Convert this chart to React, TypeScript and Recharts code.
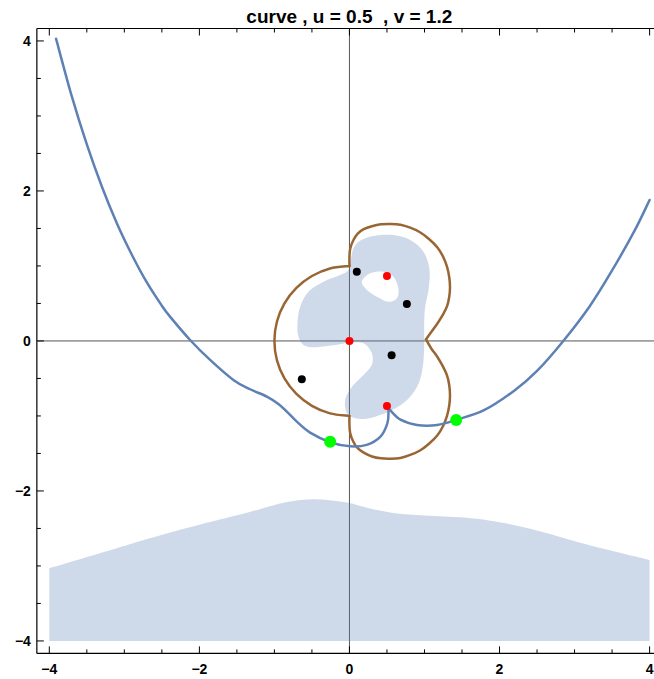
import React from 'react';
import { ScatterChart, Scatter, XAxis, YAxis } from 'recharts';

type Pt = { x: number; y: number };

// Upper shaded region: outer boundary and the hole inside it
const blobOuter: Pt[] = [
  { x: 0.142, y: 1.337 }, { x: 0.32, y: 1.40 }, { x: 0.587, y: 1.413 }, { x: 0.809, y: 1.347 },
  { x: 0.987, y: 1.191 }, { x: 1.067, y: 0.947 }, { x: 1.053, y: 0.68 }, { x: 1.009, y: 0.457 },
  { x: 0.996, y: 0.236 }, { x: 0.996, y: -0.031 }, { x: 0.987, y: -0.253 }, { x: 0.952, y: -0.476 },
  { x: 0.876, y: -0.653 }, { x: 0.743, y: -0.809 }, { x: 0.565, y: -0.92 }, { x: 0.343, y: -1.009 },
  { x: 0.142, y: -1.04 }, { x: -0.013, y: -0.987 }, { x: -0.058, y: -0.876 }, { x: -0.044, y: -0.742 },
  { x: 0.053, y: -0.587 }, { x: 0.187, y: -0.453 }, { x: 0.298, y: -0.32 }, { x: 0.298, y: -0.164 },
  { x: 0.187, y: -0.031 }, { x: 0.0, y: -0.02 }, { x: -0.124, y: -0.044 }, { x: -0.301, y: -0.067 },
  { x: -0.48, y: -0.084 }, { x: -0.613, y: -0.053 }, { x: -0.68, y: 0.058 }, { x: -0.693, y: 0.236 },
  { x: -0.657, y: 0.457 }, { x: -0.546, y: 0.657 }, { x: -0.346, y: 0.791 }, { x: -0.124, y: 0.88 },
  { x: -0.013, y: 0.947 }, { x: 0.018, y: 1.08 }, { x: 0.053, y: 1.236 },
];
const blobHole: Pt[] = [
  { x: 0.165, y: 0.791 }, { x: 0.276, y: 0.903 }, { x: 0.453, y: 0.924 }, { x: 0.587, y: 0.857 },
  { x: 0.653, y: 0.702 }, { x: 0.632, y: 0.569 }, { x: 0.52, y: 0.524 }, { x: 0.365, y: 0.591 },
  { x: 0.232, y: 0.68 },
];

// Lower shaded band: smooth upper edge, then the flat base at y = -4
const lowerBandTop: Pt[] = [
  { x: -4.0, y: -3.03 }, { x: -3.19, y: -2.79 }, { x: -2.66, y: -2.63 }, { x: -2.0, y: -2.45 },
  { x: -1.33, y: -2.28 }, { x: -0.85, y: -2.15 }, { x: -0.48, y: -2.11 }, { x: -0.21, y: -2.13 },
  { x: 0.0, y: -2.16 }, { x: 0.26, y: -2.23 }, { x: 0.64, y: -2.30 }, { x: 1.06, y: -2.33 },
  { x: 1.59, y: -2.36 }, { x: 2.02, y: -2.42 }, { x: 2.55, y: -2.54 }, { x: 3.19, y: -2.72 },
  { x: 4.0, y: -2.92 },
];
const lowerBandBase: Pt[] = [{ x: 4.0, y: -4.0 }, { x: -4.0, y: -4.0 }];

// Blue curve, two branches meeting at (0.5, -0.866)
const blueLeft: Pt[] = [
  { x: -3.91, y: 4.03 }, { x: -3.7, y: 3.26 }, { x: -3.5, y: 2.62 }, { x: -3.3, y: 2.06 },
  { x: -3.1, y: 1.57 }, { x: -2.9, y: 1.15 }, { x: -2.7, y: 0.78 }, { x: -2.5, y: 0.47 },
  { x: -2.391, y: 0.324 }, { x: -2.124, y: 0.013 }, { x: -1.857, y: -0.253 },
  { x: -1.547, y: -0.52 }, { x: -1.324, y: -0.644 }, { x: -1.101, y: -0.742 }, { x: -0.947, y: -0.84 },
  { x: -0.835, y: -0.942 }, { x: -0.701, y: -1.076 }, { x: -0.524, y: -1.222 }, { x: -0.257, y: -1.35 },
  { x: 0.01, y: -1.405 }, { x: 0.23, y: -1.385 }, { x: 0.41, y: -1.28 }, { x: 0.505, y: -1.10 },
  { x: 0.52, y: -0.93 }, { x: 0.5, y: -0.866 },
];
const blueRight: Pt[] = [
  { x: 0.5, y: -0.866 }, { x: 0.54, y: -0.92 }, { x: 0.68, y: -1.05 }, { x: 0.9, y: -1.12 },
  { x: 1.17, y: -1.12 }, { x: 1.42, y: -1.053 }, { x: 1.8, y: -0.92 }, { x: 2.2, y: -0.66 },
  { x: 2.5, y: -0.40 }, { x: 2.85, y: 0.0 }, { x: 3.2, y: 0.46 }, { x: 3.5, y: 0.94 },
  { x: 3.8, y: 1.47 }, { x: 4.0, y: 1.88 },
];

// Brown closed curve, three lobes joined at corners
const brownTop: Pt[] = [
  { x: 0.0, y: 1.0 }, { x: 0.0, y: 1.12 }, { x: 0.01, y: 1.23 }, { x: 0.05, y: 1.34 },
  { x: 0.11, y: 1.43 }, { x: 0.19, y: 1.49 }, { x: 0.30, y: 1.53 }, { x: 0.42, y: 1.555 },
  { x: 0.55, y: 1.56 }, { x: 0.68, y: 1.55 }, { x: 0.81, y: 1.51 }, { x: 0.94, y: 1.45 },
  { x: 1.06, y: 1.36 }, { x: 1.17, y: 1.25 }, { x: 1.25, y: 1.12 }, { x: 1.30, y: 0.99 },
  { x: 1.33, y: 0.85 }, { x: 1.34, y: 0.72 }, { x: 1.33, y: 0.59 }, { x: 1.30, y: 0.46 },
  { x: 1.24, y: 0.34 }, { x: 1.17, y: 0.23 }, { x: 1.09, y: 0.12 }, { x: 1.02, y: 0.02 },
];
const brownBottom: Pt[] = [
  { x: 1.02, y: 0.02 }, { x: 1.09, y: -0.10 }, { x: 1.17, y: -0.21 }, { x: 1.24, y: -0.33 },
  { x: 1.30, y: -0.46 }, { x: 1.33, y: -0.59 }, { x: 1.34, y: -0.73 }, { x: 1.33, y: -0.86 },
  { x: 1.30, y: -1.0 }, { x: 1.25, y: -1.13 }, { x: 1.17, y: -1.26 }, { x: 1.06, y: -1.37 },
  { x: 0.94, y: -1.46 }, { x: 0.81, y: -1.52 }, { x: 0.68, y: -1.56 }, { x: 0.55, y: -1.57 },
  { x: 0.42, y: -1.565 }, { x: 0.30, y: -1.54 }, { x: 0.19, y: -1.49 }, { x: 0.11, y: -1.43 },
  { x: 0.05, y: -1.34 }, { x: 0.01, y: -1.23 }, { x: 0.0, y: -1.12 }, { x: 0.0, y: -1.0 },
];
const brownLeft: Pt[] = [
  { x: 0.0, y: -1.0 }, { x: -0.259, y: -0.966 }, { x: -0.5, y: -0.866 }, { x: -0.707, y: -0.707 },
  { x: -0.866, y: -0.5 }, { x: -0.966, y: -0.259 }, { x: -1.0, y: 0.0 }, { x: -0.966, y: 0.259 },
  { x: -0.866, y: 0.5 }, { x: -0.707, y: 0.707 }, { x: -0.5, y: 0.866 }, { x: -0.259, y: 0.966 },
  { x: 0.0, y: 1.0 },
];

// Marked points
const blackPoints: Pt[] = [
  { x: 0.098, y: 0.924 }, { x: 0.765, y: 0.493 }, { x: 0.562, y: -0.191 }, { x: -0.635, y: -0.511 },
];
const redPoints: Pt[] = [
  { x: 0.0, y: 0.0 }, { x: 0.5, y: 0.866 }, { x: 0.5, y: -0.866 },
];
const greenPoints: Pt[] = [
  { x: -0.257, y: -1.343 }, { x: 1.423, y: -1.053 },
];

// Coordinate axes through the origin
const hAxis: Pt[] = [{ x: -4.166, y: 0 }, { x: 4.166, y: 0 }];
const vAxis: Pt[] = [{ x: 0, y: -4.166 }, { x: 0, y: 4.166 }];

const tickValues = [-4, -3.5, -3, -2.5, -2, -1.5, -1, -0.5, 0, 0.5, 1, 1.5, 2, 2.5, 3, 3.5, 4];
const labeledTicks = [-4, -2, 0, 2, 4];
const domain: [number, number] = [-4.166, 4.166];

const TITLE = 'curve , u = 0.5  , v = 1.2';
const FONT = '"Liberation Sans", Arial, Helvetica, sans-serif';
const BLUE = '#5e81b5';
const BROWN = '#996633';

const fmt = (v: number) => (v < 0 ? `\u2212${Math.abs(v)}` : `${v}`);

function smoothPath(pts: { x: number; y: number }[], closed: boolean): string {
  const n = pts.length;
  if (n < 2) return '';
  const get = (i: number) => (closed ? pts[(i + n) % n] : pts[Math.max(0, Math.min(n - 1, i))]);
  let d = `M${pts[0].x},${pts[0].y}`;
  const segs = closed ? n : n - 1;
  for (let i = 0; i < segs; i++) {
    const p0 = get(i - 1), p1 = get(i), p2 = get(i + 1), p3 = get(i + 2);
    const c1x = p1.x + (p2.x - p0.x) / 6, c1y = p1.y + (p2.y - p0.y) / 6;
    const c2x = p2.x - (p3.x - p1.x) / 6, c2y = p2.y - (p3.y - p1.y) / 6;
    d += ` C${c1x},${c1y} ${c2x},${c2y} ${p2.x},${p2.y}`;
  }
  if (closed) d += ' Z';
  return d;
}

const NoShape = () => <g />;

const curveLine = (color: string, width: number) => (p: any) => (
  <path d={smoothPath(p.points, false)} fill="none" stroke={color} strokeWidth={width}
    strokeLinejoin="round" strokeLinecap="round" />
);

const straightLine = (p: any) => {
  const [a, b] = p.points;
  return <line x1={a.x} y1={a.y} x2={b.x} y2={b.y} stroke="#555" strokeWidth={1} />;
};

const blobLine = (p: any) => {
  const pts = p.points;
  const outer = pts.slice(0, blobOuter.length);
  const hole = pts.slice(blobOuter.length);
  return (
    <path d={`${smoothPath(outer, true)} ${smoothPath(hole, true)}`} fill={BLUE} fillOpacity={0.3}
      fillRule="evenodd" stroke="none" />
  );
};

const bandLine = (p: any) => {
  const pts = p.points;
  const top = pts.slice(0, lowerBandTop.length);
  const base = pts.slice(lowerBandTop.length);
  const d = `${smoothPath(top, false)} L${base[0].x},${base[0].y} L${base[1].x},${base[1].y} Z`;
  return <path d={d} fill={BLUE} fillOpacity={0.3} stroke="none" />;
};

const dot = (r: number, color: string) => (p: any) => <circle cx={p.cx} cy={p.cy} r={r} fill={color} />;

const BottomTick = (props: any) => {
  const { x, y, payload } = props;
  const v = payload.value;
  const major = labeledTicks.includes(v);
  return (
    <g>
      <line x1={x} y1={y} x2={x} y2={y - (major ? 7 : 4)} stroke="#000" strokeWidth={1} />
      {major && (
        <text x={x} y={y + 21} textAnchor="middle" fontFamily={FONT} fontWeight="bold" fontSize={14} fill="#000">
          {fmt(v)}
        </text>
      )}
    </g>
  );
};

const TopTick = (props: any) => {
  const { x, y, payload } = props;
  const major = labeledTicks.includes(payload.value);
  return <line x1={x} y1={y} x2={x} y2={y + (major ? 7 : 4)} stroke="#000" strokeWidth={1} />;
};

const LeftTick = (props: any) => {
  const { x, y, payload } = props;
  const v = payload.value;
  const major = labeledTicks.includes(v);
  return (
    <g>
      <line x1={x} y1={y} x2={x + (major ? 7 : 4)} y2={y} stroke="#000" strokeWidth={1} />
      {major && (
        <text x={x - 6} y={y} dy="0.36em" textAnchor="end" fontFamily={FONT} fontWeight="bold" fontSize={14} fill="#000">
          {fmt(v)}
        </text>
      )}
    </g>
  );
};

export default function App() {
  return (
    <div style={{ position: 'fixed', left: 0, top: 0, width: 654, height: 679, overflow: 'hidden', background: '#fff' }}>
      <div
        style={{
          position: 'absolute', left: 349.3, top: 6.4, transform: 'translateX(-50%)', whiteSpace: 'pre',
          fontFamily: FONT, fontWeight: 'bold', fontSize: 19, lineHeight: '22px', color: '#000',
        }}
      >
        {TITLE}
      </div>
      <ScatterChart width={663} height={679} margin={{ top: 18.5, right: 0.95, bottom: 0.6, left: 6.85 }}>
        <XAxis xAxisId="b" dataKey="x" type="number" orientation="bottom" domain={domain} allowDataOverflow
          ticks={tickValues} interval={0} height={25} tickSize={0} tickMargin={0} tickLine={false}
          axisLine={{ stroke: '#000', strokeWidth: 1.2 }} tick={<BottomTick />} />
        <XAxis xAxisId="t" dataKey="x" type="number" orientation="top" domain={domain} allowDataOverflow
          ticks={tickValues} interval={0} height={10} tickSize={0} tickMargin={0} tickLine={false}
          axisLine={{ stroke: '#000', strokeWidth: 1.2 }} tick={<TopTick />} />
        <YAxis dataKey="y" type="number" domain={domain} allowDataOverflow ticks={tickValues} interval={0}
          width={30} tickSize={0} tickMargin={0} tickLine={false}
          axisLine={{ stroke: '#000', strokeWidth: 1.2 }} tick={<LeftTick />} />

        <Scatter xAxisId="b" data={hAxis} shape={NoShape} line={straightLine} isAnimationActive={false} />
        <Scatter xAxisId="b" data={vAxis} shape={NoShape} line={straightLine} isAnimationActive={false} />

        <Scatter xAxisId="b" data={[...lowerBandTop, ...lowerBandBase]} shape={NoShape} line={bandLine} isAnimationActive={false} />
        <Scatter xAxisId="b" data={[...blobOuter, ...blobHole]} shape={NoShape} line={blobLine} isAnimationActive={false} />

        <Scatter xAxisId="b" data={brownTop} shape={NoShape} line={curveLine(BROWN, 2.5)} isAnimationActive={false} />
        <Scatter xAxisId="b" data={brownBottom} shape={NoShape} line={curveLine(BROWN, 2.5)} isAnimationActive={false} />
        <Scatter xAxisId="b" data={brownLeft} shape={NoShape} line={curveLine(BROWN, 2.5)} isAnimationActive={false} />

        <Scatter xAxisId="b" data={blueLeft} shape={NoShape} line={curveLine(BLUE, 2.5)} isAnimationActive={false} />
        <Scatter xAxisId="b" data={blueRight} shape={NoShape} line={curveLine(BLUE, 2.5)} isAnimationActive={false} />

        <Scatter xAxisId="b" data={blackPoints} shape={dot(4, '#000')} isAnimationActive={false} />
        <Scatter xAxisId="b" data={redPoints} shape={dot(4, '#ff0000')} isAnimationActive={false} />
        <Scatter xAxisId="b" data={greenPoints} shape={dot(6, '#00ff00')} isAnimationActive={false} />
      </ScatterChart>
    </div>
  );
}
